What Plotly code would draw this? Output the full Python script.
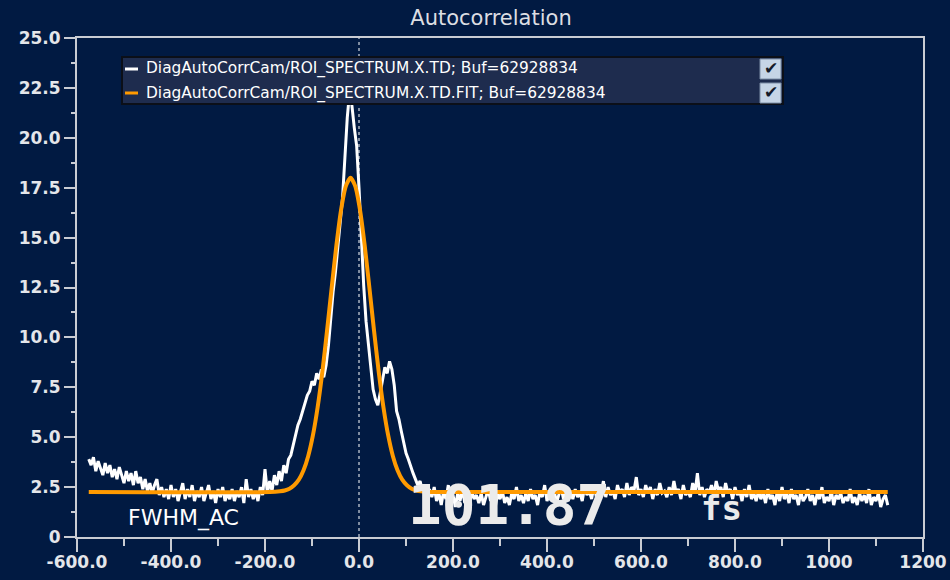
import plotly.graph_objects as go

# ---- data -------------------------------------------------------------
trace_name = "DiagAutoCorrCam/ROI_SPECTRUM.X.TD; Buf=62928834"
fit_name = "DiagAutoCorrCam/ROI_SPECTRUM.X.TD.FIT; Buf=62928834"

# measured autocorrelation, sampled every 5 fs starting at -575 fs
td_start = -575
td_step = 5
td_values = [
    3.9, 3.6, 4.0, 3.3, 3.8, 3.5, 3.1, 3.7, 3.2, 3.6, 3.0, 3.4, 2.9, 3.5, 3.1, 2.7, 3.3, 2.8, 3.2, 2.6,
    3.3, 2.7, 3.0, 2.4, 2.9, 2.3, 2.7, 2.2, 2.6, 2.9, 2.1, 2.5, 2.0, 2.4, 1.9, 2.6, 2.0, 2.4, 1.8, 2.3,
    2.7, 1.9, 2.4, 2.0, 2.6, 1.8, 2.3, 2.0, 2.5, 1.8, 2.2, 2.6, 1.9, 2.3, 1.7, 2.4, 2.0, 2.5, 1.8, 2.2,
    1.9, 2.4, 1.8, 2.3, 2.0, 2.5, 1.7, 2.9, 2.0, 2.4, 1.9, 2.3, 1.8, 2.5, 2.1, 3.4, 2.2, 2.8, 2.3, 3.1,
    2.6, 3.3, 2.8, 3.6, 3.2, 3.9, 4.1, 4.6, 5.0, 5.6, 5.9, 6.3, 6.6, 7.1, 7.3, 7.8, 7.6, 8.2, 7.9, 8.4,
    8.0, 8.6, 9.6, 11.0, 12.3, 13.3, 14.5, 15.6, 17.0, 19.0, 21.0, 22.3, 21.6, 20.5, 19.6, 17.5, 14.8, 12.6, 10.8, 9.6,
    8.5, 7.4, 6.9, 6.6, 7.2, 7.8, 8.5, 8.2, 8.8, 8.4, 7.6, 6.3, 5.9, 5.3, 4.8, 4.2, 3.9, 3.5, 3.2, 2.9,
    2.6, 2.8, 2.3, 2.6, 2.1, 2.4, 2.0, 2.5, 1.8, 2.2, 1.6, 2.3, 1.9, 2.6, 1.7, 2.1, 1.5, 2.2, 1.8, 2.4,
    1.7, 2.0, 1.6, 2.3, 1.9, 2.1, 1.7, 2.2, 1.6, 2.0, 2.4, 1.8, 2.1, 1.5, 2.2, 1.9, 2.3, 1.7, 2.0, 1.6,
    2.2, 1.9, 2.5, 1.8, 2.1, 1.7, 2.2, 1.8, 2.4, 1.9, 2.1, 1.6, 2.3, 2.0, 2.6, 1.8, 2.2, 1.9, 2.4, 1.7,
    2.1, 2.5, 1.9, 2.2, 1.8, 2.3, 1.9, 2.4, 2.0, 2.2, 1.8, 2.5, 2.1, 2.3, 1.9, 2.6, 2.0, 2.4, 2.2, 2.8,
    2.0, 2.5, 2.1, 2.3, 1.9, 2.6, 2.2, 2.4, 2.0, 2.7, 2.1, 2.5, 2.3, 3.0, 2.1, 2.4, 2.0, 2.6, 2.2, 2.5,
    1.9, 2.4, 2.1, 2.7, 2.2, 2.3, 2.0, 2.5, 2.1, 2.8, 2.2, 2.4, 1.9, 2.6, 2.1, 2.3, 2.0, 2.7, 2.2, 3.2,
    2.1, 2.5, 2.0, 2.4, 2.2, 2.6, 2.1, 2.8, 2.3, 2.5, 2.0, 2.7, 2.2, 2.4, 1.9, 2.5, 2.1, 2.3, 1.8, 2.4,
    2.0, 2.6, 1.9, 2.2, 1.8, 2.3, 1.9, 2.2, 1.7, 2.4, 1.9, 2.1, 1.6, 2.3, 1.8, 2.5, 1.9, 2.2, 1.7, 2.4,
    1.9, 2.1, 1.6, 2.3, 1.8, 2.0, 2.4, 1.8, 2.1, 1.6, 2.2, 1.9, 2.5, 1.7, 2.0, 1.8, 2.3, 1.6, 2.1, 1.9,
    2.2, 1.7, 2.0, 1.8, 2.4, 1.7, 2.0, 1.6, 2.2, 1.8, 2.1, 1.7, 2.4, 1.6, 2.0, 1.8, 2.2, 1.5, 1.9, 2.1,
    1.6,
]
td_x = [td_start + td_step * i for i in range(len(td_values))]

# Gaussian fit curve
fit_x = [-575, -190, -168, -158, -148, -138, -128, -118, -108, -98, -88, -78, -68, -58, -48, -38, -28,
         -18,
         -8, 2, 12, 22, 32, 42, 52, 62, 72, 82, 92, 102, 112, 122, 132,
         154, 1125]
fit_y = [2.25, 2.25, 2.29, 2.33, 2.42, 2.59, 2.87, 3.34, 4.06, 5.10, 6.50, 8.27, 10.33, 12.52, 14.63, 16.41, 17.58,
         18.00,
         17.58, 16.41, 14.63, 12.52, 10.33, 8.27, 6.50, 5.10, 4.06, 3.34, 2.87, 2.59, 2.42, 2.33, 2.29,
         2.25, 2.25]

fwhm_label = "FWHM_AC"
fwhm_value = "101.87"
fwhm_unit = "fs"

x_tickvals = [-600, -400, -200, 0, 200, 400, 600, 800, 1000, 1200]
x_ticktext = ["-600.0", "-400.0", "-200.0", "0.0", "200.0", "400.0", "600.0", "800.0", "1000", "1200"]
y_tickvals = [0, 2.5, 5, 7.5, 10, 12.5, 15, 17.5, 20, 22.5, 25]
y_ticktext = ["0", "2.5", "5.0", "7.5", "10.0", "12.5", "15.0", "17.5", "20.0", "22.5", "25.0"]

# ---- styling ----------------------------------------------------------
BG = "#011a42"
FRAME = "#c9ccd3"
W, H = 950, 580
L, R, T, B = 77, 27, 38, 43
PW, PH = W - L - R, H - T - B


def px(xp):
    return (xp - L) / PW


def py(yp):
    return (H - B - yp) / PH


fig = go.Figure()
fig.add_trace(go.Scatter(x=td_x, y=td_values, mode="lines", name=trace_name,
                         line=dict(color="white", width=3), showlegend=False))
fig.add_trace(go.Scatter(x=fit_x, y=fit_y, mode="lines", name=fit_name,
                         line=dict(color="#ff9a00", width=4, shape="spline", smoothing=0.6),
                         showlegend=False))

axis_font = dict(family="DejaVu Sans", size=17, color="#e4e6ea", weight="bold")

fig.update_xaxes(range=[-600, 1200], tickmode="array", tickvals=x_tickvals, ticktext=x_ticktext,
                 ticks="outside", ticklen=13, tickwidth=1.5, tickcolor=FRAME, ticklabelstandoff=-4,
                 minor=dict(tickmode="linear", tick0=-500, dtick=200, ticks="outside",
                            ticklen=7, tickwidth=1.5, tickcolor=FRAME, showgrid=False),
                 showline=True, linecolor=FRAME, linewidth=2, mirror=True, automargin=False,
                 showgrid=False, zeroline=False, tickfont=axis_font)
fig.update_yaxes(range=[0, 25], tickmode="array", tickvals=y_tickvals, ticktext=y_ticktext,
                 ticks="outside", ticklen=11, tickwidth=1.5, tickcolor=FRAME,
                 minor=dict(tickmode="linear", tick0=1.25, dtick=2.5, ticks="outside",
                            ticklen=4, tickwidth=1.5, tickcolor=FRAME, showgrid=False),
                 showline=True, linecolor=FRAME, linewidth=2, mirror=True, automargin=False,
                 showgrid=False, zeroline=False, tickfont=axis_font)

shapes = [
    # dotted marker at zero delay
    dict(type="line", xref="x", yref="paper", x0=0, x1=0, y0=0, y1=1,
         line=dict(color="white", width=1, dash="dot"), layer="below"),
    # legend panel
    dict(type="rect", xref="paper", yref="paper", x0=px(122), x1=px(783), y0=py(104), y1=py(57),
         fillcolor="#1e2c4e", line=dict(color="#0b0f18", width=2), layer="above"),
]
annotations = []
rows = [(trace_name, "white", 69), (fit_name, "#ff9a00", 93)]
for name, color, yc in rows:
    shapes.append(dict(type="line", xref="paper", yref="paper", x0=px(125), x1=px(138),
                       y0=py(yc), y1=py(yc), line=dict(color=color, width=3), layer="above"))
    annotations.append(dict(text=name, xref="paper", yref="paper", x=px(144), y=py(yc),
                            xanchor="left", yanchor="middle", showarrow=False,
                            font=dict(family="DejaVu Sans", size=15.4, color="white")))
    shapes.append(dict(type="rect", xref="paper", yref="paper", x0=px(760), x1=px(781),
                       y0=py(yc + 10), y1=py(yc - 10), fillcolor="#c6d5e6",
                       line=dict(color="#7d8ea6", width=1), layer="above"))
    annotations.append(dict(text="✔", xref="paper", yref="paper", x=px(771), y=py(yc - 1),
                            xanchor="center", yanchor="middle", showarrow=False,
                            font=dict(family="DejaVu Sans", size=17, color="#141a28")))

annotations += [
    dict(text=fwhm_label, xref="paper", yref="paper", x=px(126), y=py(518),
         xanchor="left", yanchor="middle", showarrow=False,
         font=dict(family="DejaVu Sans", size=22, color="white")),
    dict(text=fwhm_value, xref="paper", yref="paper", x=px(509), y=py(504),
         xanchor="center", yanchor="middle", showarrow=False,
         font=dict(family="DejaVu Sans Mono", size=56, color="#ebebeb", weight="bold")),
    dict(text=fwhm_unit, xref="paper", yref="paper", x=px(721), y=py(508),
         xanchor="center", yanchor="middle", showarrow=False,
         font=dict(family="DejaVu Sans Mono", size=34, color="#ebebeb", weight="bold")),
]

fig.update_layout(
    width=W, height=H,
    margin=dict(l=L, r=R, t=T, b=B),
    paper_bgcolor=BG, plot_bgcolor=BG,
    title=dict(text="Autocorrelation", x=491 / W, xanchor="center", xref="container",
               y=1 - 18 / H, yanchor="middle", yref="container",
               font=dict(family="DejaVu Sans", size=21, color="#dcdee2")),
    shapes=shapes, annotations=annotations,
    showlegend=False,
)

fig.write_html("out.html")
